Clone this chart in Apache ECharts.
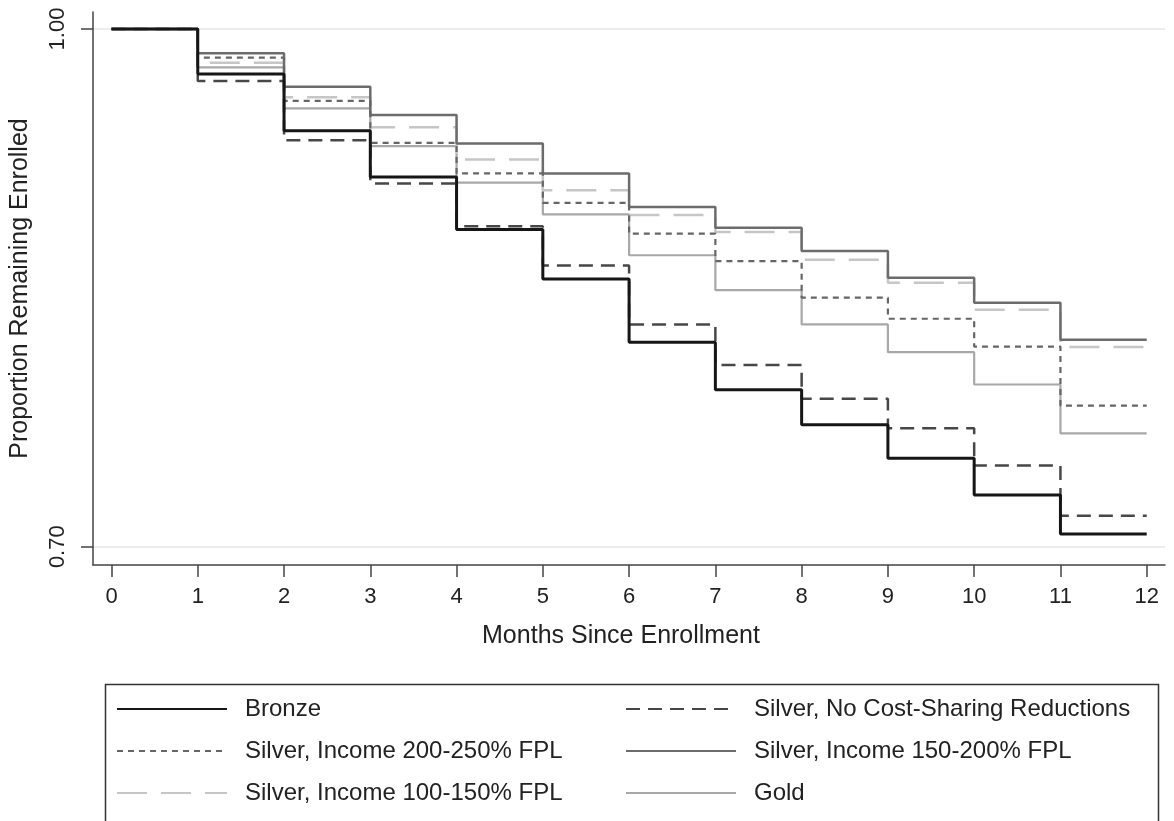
<!DOCTYPE html>
<html>
<head>
<meta charset="utf-8">
<title>Proportion Remaining Enrolled</title>
<script src="https://cdn.jsdelivr.net/npm/echarts@6/dist/echarts.min.js"></script>
<style>
  html, body { margin: 0; padding: 0; background: #ffffff; }
  #chart { width: 1174px; height: 821px; }
</style>
</head>
<body>
<div id="chart"></div>
<script>
// 月份
const months = [0, 1, 2, 3, 4, 5, 6, 7, 8, 9, 10, 11, 12]
const xTicks = [0, 1, 2, 3, 4, 5, 6, 7, 8, 9, 10, 11, 12]
const yTicks = [0.70, 1.00]

// 各组留存比例 (第12个月延续最后一段)
const bronze = [1.000, 0.9739, 0.9410, 0.9143, 0.8838, 0.8551, 0.8185, 0.7909, 0.7706, 0.7512, 0.7300, 0.7074, 0.7074]
const noCSR = [1.000, 0.9698, 0.9356, 0.9105, 0.8857, 0.8629, 0.8288, 0.8053, 0.7857, 0.7686, 0.7470, 0.7180, 0.7180]
const silver200 = [1.000, 0.9834, 0.9584, 0.9340, 0.9163, 0.8992, 0.8814, 0.8655, 0.8443, 0.8321, 0.8160, 0.7818, 0.7818]
const silver150 = [1.000, 0.9859, 0.9665, 0.9501, 0.9337, 0.9163, 0.8969, 0.8848, 0.8713, 0.8559, 0.8414, 0.8199, 0.8199]
const silver100 = [1.000, 0.9805, 0.9604, 0.9430, 0.9244, 0.9066, 0.8922, 0.8824, 0.8663, 0.8530, 0.8373, 0.8157, 0.8157]
const gold = [1.000, 0.9778, 0.9540, 0.9321, 0.9110, 0.8926, 0.8689, 0.8487, 0.8288, 0.8127, 0.7940, 0.7657, 0.7657]

const FONT = '"Liberation Sans", Arial, Helvetica, sans-serif'
const myChart = echarts.init(document.getElementById('chart'))

// 构造阶梯线
const makeSeries = (name, vals, color, width, dash) => ({
  name: name,
  type: 'line',
  step: 'end',
  symbol: 'none',
  animation: false,
  lineStyle: { color: color, width: width, type: dash, cap: 'butt' },
  itemStyle: { color: color },
  data: months.map((m, i) => [m, vals[i]])
})

const series = [
  makeSeries('Gold', gold, '#a8a8a8', 2.2, 'solid'),
  makeSeries('Silver, Income 100-150% FPL', silver100, '#c6c6c6', 2.5, [30, 14]),
  makeSeries('Silver, Income 150-200% FPL', silver150, '#6c6c6c', 2.5, 'solid'),
  makeSeries('Silver, Income 200-250% FPL', silver200, '#666666', 2.2, [6, 5]),
  makeSeries('Silver, No Cost-Sharing Reductions', noCSR, '#474747', 2.5, [14, 8]),
  makeSeries('Bronze', bronze, '#161616', 3, 'solid')
]

const legendText = { fontFamily: FONT, fontSize: 24, color: '#222', lineHeight: 26, padding: [0, 0, 0, 13] }
const legendBase = {
  orient: 'vertical',
  top: 696,
  padding: 0,
  itemWidth: 110,
  itemHeight: 14,
  itemGap: 16,
  itemStyle: { opacity: 0 }, // 隐藏图例中的圆点
  textStyle: legendText
}

const options = {
  backgroundColor: '#ffffff',
  textStyle: { fontFamily: FONT },
  // 网格
  grid: { left: 93, right: 9, top: 12, bottom: 256, containLabel: false },
  // 图例 两列
  legend: [
    Object.assign({}, legendBase, {
      left: 116,
      data: ['Bronze', 'Silver, Income 200-250% FPL', 'Silver, Income 100-150% FPL']
    }),
    Object.assign({}, legendBase, {
      left: 625,
      data: ['Silver, No Cost-Sharing Reductions', 'Silver, Income 150-200% FPL', 'Gold']
    })
  ],
  // 图例外框
  graphic: [{
    type: 'rect',
    left: 103,
    top: 682,
    shape: { width: 1053, height: 160 },
    style: { fill: 'none', stroke: '#333', lineWidth: 1.5 },
    silent: true
  }],
  // x轴
  xAxis: {
    type: 'value',
    min: -0.2144,
    max: 12.212,
    name: 'Months Since Enrollment',
    nameLocation: 'middle',
    nameGap: 59,
    nameTextStyle: { fontFamily: FONT, fontSize: 25, color: '#222', padding: [0, 16, 0, 0] },
    axisLine: { show: true, onZero: false, lineStyle: { color: '#444', width: 1.5 } },
    axisTick: { show: true, length: 12, customValues: xTicks, lineStyle: { color: '#444', width: 1.5 } },
    axisLabel: { customValues: xTicks, fontFamily: FONT, fontSize: 22, color: '#222', margin: 21 },
    splitLine: { show: false }
  },
  // y轴
  yAxis: {
    type: 'value',
    min: 0.6894,
    max: 1.00985,
    name: 'Proportion Remaining Enrolled',
    nameLocation: 'middle',
    nameGap: 60,
    nameTextStyle: { fontFamily: FONT, fontSize: 25, color: '#222' },
    axisLine: { show: true, onZero: false, lineStyle: { color: '#444', width: 1.5 } },
    axisTick: { show: true, length: 12, customValues: yTicks, lineStyle: { color: '#444', width: 1.5 } },
    axisLabel: {
      customValues: yTicks,
      rotate: 90,
      fontFamily: FONT,
      fontSize: 22,
      color: '#222',
      margin: 24,
      formatter: (v) => v.toFixed(2)
    },
    splitLine: { show: true, lineStyle: { color: '#ececec', width: 2 } }
  },
  series: series
}
myChart.setOption(options)
</script>
</body>
</html>
